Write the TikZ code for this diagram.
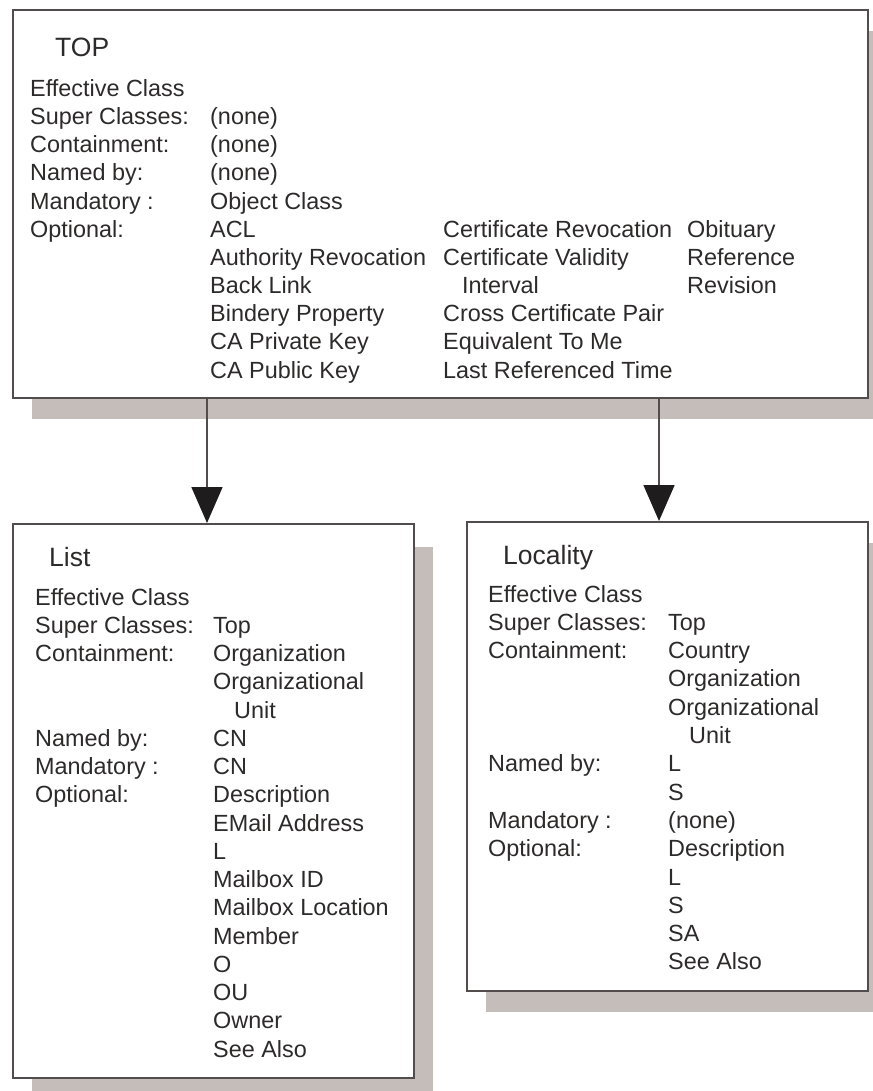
\documentclass[tikz,border=0pt]{standalone}
\usepackage{fontspec}
\setmainfont{Liberation Sans}
\usetikzlibrary{arrows.meta}
\definecolor{frame}{RGB}{82,77,76}
\definecolor{shade}{RGB}{197,189,186}
\definecolor{ink}{RGB}{45,42,42}
\definecolor{tipfill}{RGB}{30,28,28}
\tikzset{
  classbox/.style={draw=frame, line width=1.8pt, fill=white, inner sep=0pt, anchor=north west},
  shadowbox/.style={fill=shade, draw=none},
  txt/.style={anchor=base west, inner sep=0pt, text=ink, font=\fontsize{23.4}{28}\selectfont},
  ttl/.style={anchor=base west, inner sep=0pt, text=ink, font=\fontsize{26.5}{30}\selectfont},
  inherit/.style={draw=frame, line width=1.6pt, -{Triangle[width=31pt,length=36pt,color=tipfill,fill=tipfill]}}
}
\begin{document}
\begin{tikzpicture}[x=1pt, y=-1pt]
\useasboundingbox (0,0) rectangle (872,1091);

% drop shadows
\fill[shadowbox] (32,31) rectangle (887,419);
\fill[shadowbox] (32,547) rectangle (433,1101);
\fill[shadowbox] (486,543) rectangle (887,1012);

% class boxes
\node[classbox, minimum width=855pt, minimum height=388pt] (top) at (12,9) {};
\node[classbox, minimum width=401pt, minimum height=554pt] (list) at (12,523) {};
\node[classbox, minimum width=401pt, minimum height=469pt] (loc) at (466,521) {};

% ---- TOP ----
\node[ttl] (topT) at (55,57) {TOP};
\foreach \r/\t [count=\i] in {0/Effective Class, 1/Super Classes:, 2/Containment:, 3/Named by:, 4/Mandatory :, 5/Optional:}
  \node[txt] (topL\i) at (30,{96.5+28.15*\r}) {\t};
\foreach \r/\t [count=\i] in {1/(none), 2/(none), 3/(none), 4/Object Class, 5/ACL, 6/Authority Revocation, 7/Back Link, 8/Bindery Property, 9/CA Private Key, 10/CA Public Key}
  \node[txt] (topV\i) at (210,{96.5+28.15*\r}) {\t};
\foreach \r/\t [count=\i] in {5/Certificate Revocation, 6/Certificate Validity, 8/Cross Certificate Pair, 9/Equivalent To Me, 10/Last Referenced Time}
  \node[txt] (topW\i) at (443,{96.5+28.15*\r}) {\t};
\node[txt] (topW0) at (462,{96.5+28.15*7}) {Interval};
\foreach \r/\t [count=\i] in {5/Obituary, 6/Reference, 7/Revision}
  \node[txt] (topX\i) at (687,{96.5+28.15*\r}) {\t};

% ---- List ----
\node[ttl] (listT) at (49,566) {List};
\foreach \r/\t [count=\i] in {0/Effective Class, 1/Super Classes:, 2/Containment:, 5/Named by:, 6/Mandatory :, 7/Optional:}
  \node[txt] (listL\i) at (35,{605+28.25*\r}) {\t};
\foreach \r/\t [count=\i] in {1/Top, 2/Organization, 3/Organizational, 5/CN, 6/CN, 7/Description, 8/EMail Address, 9/L, 10/Mailbox ID, 11/Mailbox Location, 12/Member, 13/O, 14/OU, 15/Owner, 16/See Also}
  \node[txt] (listV\i) at (213,{605+28.25*\r}) {\t};
\node[txt] (listV0) at (234,{605+28.25*4}) {Unit};

% ---- Locality ----
\node[ttl] (locT) at (503,564) {Locality};
\foreach \r/\t [count=\i] in {0/Effective Class, 1/Super Classes:, 2/Containment:, 6/Named by:, 8/Mandatory :, 9/Optional:}
  \node[txt] (locL\i) at (488,{602+28.3*\r}) {\t};
\foreach \r/\t [count=\i] in {1/Top, 2/Country, 3/Organization, 4/Organizational, 6/L, 7/S, 8/(none), 9/Description, 10/L, 11/S, 12/SA, 13/See Also}
  \node[txt] (locV\i) at (668,{602+28.3*\r}) {\t};
\node[txt] (locV0) at (689,{602+28.3*5}) {Unit};

% inheritance connectors
\coordinate (ax1) at (207,0);
\coordinate (ax2) at (659,0);
\draw[inherit] (ax1 |- top.south) -- (ax1 |- list.north);
\draw[inherit] (ax2 |- top.south) -- (ax2 |- loc.north);
\end{tikzpicture}
\end{document}
